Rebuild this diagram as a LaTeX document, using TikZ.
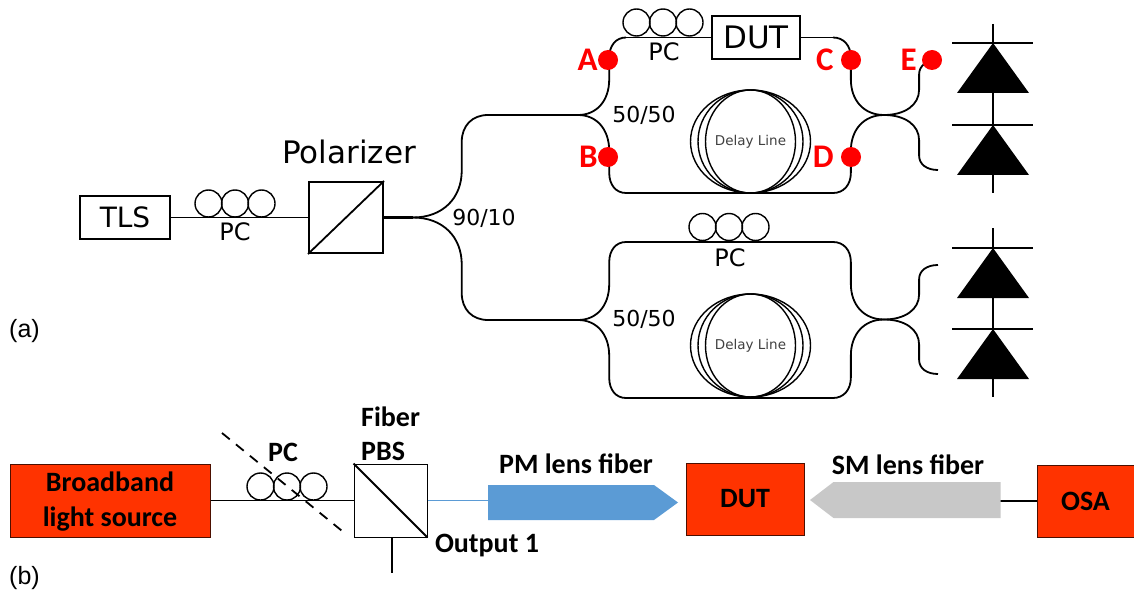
\documentclass[tikz,border=0pt]{standalone}
\usepackage{fontspec}
\setmainfont{DejaVu Sans}
\newfontfamily\labelfont{Carlito}
\newfontfamily\tagfont{Liberation Sans}
\usepackage{tikz}
\usetikzlibrary{calc}
\newcommand{\figuresize}{1pt}
\definecolor{srcred}{HTML}{FF3300}
\definecolor{pmblue}{HTML}{5B9BD5}
\definecolor{smgray}{HTML}{C8C8C8}
\newcommand{\makepc}[1]{
	\foreach \dx in {-26.5,0,26.5}
		\draw[coil] ($(#1)+(\dx,-14)$) circle (13.5pt);
}
\newcommand{\makebend}[2]{
	\coordinate (p) at ($(#1)!.65!(#2)$);
	\coordinate (m1) at ($(#1)!.46!(#2)$);
	\coordinate (m2) at ($(#1)!.74!(#2)$);
	\coordinate (n1) at (p |- m1);
	\coordinate (n2) at (p |- m2);
	\draw[fiber] (#1) .. controls ($(#1)!.6!(p |- #1)$) and ($(n1)!.6!(p |- #1)$) .. (n1) -- (n2)
		.. controls ($(n2)!.6!(p |- #2)$) and ($(#2)!.6!(p |- #2)$) .. (#2);
}
\newcommand{\makecoil}[1]{
	\foreach \rx in {60,52.5,45}
		\draw[coil] (#1) ellipse ({\rx pt} and 51.5pt);
	\node[small] at (#1) {Delay Line};
}
\newcommand{\makediode}[1]{
	\draw[fiber] ($(#1)+(-41,0)$) -- ($(#1)+(40,0)$);
	\fill ($(#1)+(0,0)$) -- ($(#1)+(36,50)$) -- ($(#1)+(-36,50)$) -- cycle;
}
\tikzset{
	fiber/.style={line width=1.8pt},
	coil/.style={line width=1.4pt},
	box/.style={draw, line width=2pt, inner sep=0pt, fill=white},
	redbox/.style={draw=black!70!srcred, line width=1pt, fill=srcred, inner sep=0pt, align=center, font=\labelfont\bfseries\fontsize{28}{35}\selectfont},
	dot/.style={circle, fill=red, inner sep=0pt, minimum size=20pt, label distance=3pt},
	letter/.style={text=red, inner sep=0pt, font=\labelfont\bfseries\fontsize{33}{33}\selectfont},
	big/.style={font=\fontsize{#1}{#1}\selectfont},
	small/.style={text=black!75, font=\fontsize{13.5}{14}\selectfont},
	bold/.style={inner sep=0pt, font=\labelfont\bfseries\fontsize{28}{34}\selectfont},
	tag/.style={anchor=west, inner sep=0pt, font=\tagfont\fontsize{25}{25}\selectfont},
}
\begin{document}
\begin{tikzpicture}[x=\figuresize,y=-\figuresize]
	\useasboundingbox (0,0) rectangle (1134,596);

	% part a, input side
	\node[box, big=28, minimum width=90pt, minimum height=43pt] (tls) at (125,217.5) {TLS};
	\node[box, minimum width=74pt, minimum height=71pt] (polarizer) at (346,217.5) {};
	\node[big=31] at (349,152) {Polarizer};
	\draw[fiber] (polarizer.south west) -- (polarizer.north east);
	\draw[fiber] (tls) -- (polarizer);
	\coordinate (Pa) at (235,217.5);
	\makepc{Pa}
	\node[big=24] at (235,232) {PC};
	\node[big=22] at (484,218) {90/10};

	\coordinate (S) at (413,217.5);
	\coordinate (S1) at (488,115);
	\coordinate (S2) at (488,320);
	\coordinate (U) at (578,115);
	\coordinate (L) at (578,320);
	\draw[line width=2.2pt] (polarizer) -- (S);
	\makebend{S}{S1}
	\makebend{S}{S2}
	\draw[line width=2.2pt] (S1) -- (U);
	\draw[line width=2.2pt] (S2) -- (L);

	% upper interferometer
	\coordinate (Ut) at (626,37.5);
	\coordinate (Ub) at (626,193);
	\coordinate (Vt) at (833,37.5);
	\coordinate (Vb) at (833,193);
	\coordinate (X) at (884,115);
	\coordinate (Eo) at (938,60);
	\coordinate (Fo) at (938,170);
	\makebend{U}{Ut}
	\makebend{U}{Ub}
	\makebend{X}{Vt}
	\makebend{X}{Vb}
	\makebend{X}{Eo}
	\makebend{X}{Fo}
	\node[box, big=31, minimum width=88pt, minimum height=43pt] (dut) at (756,37.5) {DUT};
	\draw[fiber] (Ut) -- (dut);
	\draw[fiber] (dut) -- (Vt);
	\draw[fiber] (Ub) -- (Vb);
	\coordinate (Pb) at (663,36.5);
	\makepc{Pb}
	\node[big=24] at (664,52) {PC};
	\node[big=22] at (644,115) {50/50};
	\coordinate (Ca) at (750.5,141.5);
	\makecoil{Ca}

	\node[dot, label={[letter]left:A}] (A) at (608,60) {};
	\node[dot, label={[letter]left:B}] (B) at (608,157) {};
	\node[dot, label={[letter,label distance=7pt]left:C}] (C) at (851,60) {};
	\node[dot, label={[letter,label distance=7pt]left:D}] (D) at (851,157) {};
	\node[dot, label={[letter,label distance=5pt]left:E}] (E) at (932,60) {};

	% lower interferometer
	\coordinate (Lt) at (626,242);
	\coordinate (Lb) at (626,398);
	\coordinate (Wt) at (833,242);
	\coordinate (Wb) at (833,398);
	\coordinate (Y) at (884,319.5);
	\coordinate (Go) at (938,265);
	\coordinate (Ho) at (938,374);
	\makebend{L}{Lt}
	\makebend{L}{Lb}
	\makebend{Y}{Wt}
	\makebend{Y}{Wb}
	\makebend{Y}{Go}
	\makebend{Y}{Ho}
	\draw[fiber] (Lt) -- (Wt);
	\draw[fiber] (Lb) -- (Wb);
	\coordinate (Pc) at (729,241);
	\makepc{Pc}
	\node[big=24] at (730,258) {PC};
	\node[big=22] at (644,319) {50/50};
	\coordinate (Cb) at (750.5,345.5);
	\makecoil{Cb}

	% photodiodes
	\foreach \y in {43,125,248,329} {
		\coordinate (d) at (993,\y);
		\makediode{d}
	}
	\coordinate (Ta) at (993,24);
	\coordinate (Tb) at (993,193);
	\coordinate (Tc) at (993,228);
	\coordinate (Td) at (993,397);
	\draw[fiber] (Ta) -- (Tb);
	\draw[fiber] (Tc) -- (Td);

	\node[tag] (taga) at (9,331) {(a)};
	\node[tag] (tagb) at (9,578) {(b)};

	% part b
	\node[redbox, minimum width=200pt, minimum height=73pt] (src) at (110,500.5) {};
	\node[bold, align=center] (srctext) at (110,502) {Broadband\\[1pt]light source};
	\node[draw, line width=1pt, fill=white, minimum width=73pt, minimum height=73pt] (pbs) at (390.5,500.5) {};
	\draw[fiber] (pbs.north west) -- (pbs.south east);
	\draw[fiber] (src) -- (pbs);
	\coordinate (Pd) at (287,500.5);
	\makepc{Pd}
	\coordinate (Da) at (222,433);
	\coordinate (Db) at (347,535);
	\draw[fiber, dash pattern=on 10pt off 8pt] (Da) -- (Db);
	\node[bold] at (283,452) {PC};
	\node[bold, anchor=north west, align=left] at (361,407) {Fiber\\PBS};
	\coordinate (Oa) at (392,573);
	\draw[fiber] (pbs.south -| Oa) -- (Oa);
	\node[bold] at (487,546) {Output 1};

	\coordinate (Ma) at (488,500.5);
	\draw[pmblue, fiber] (pbs) -- (Ma);
	\fill[pmblue] (488,485) -- (654,485) -- (678,502.5) -- (654,520) -- (488,520) -- cycle;
	\node[bold] at (576,464) {PM lens fiber};
	\node[redbox, minimum width=118pt, minimum height=72pt] (dutb) at (745,499) {DUT};

	\node[redbox, minimum width=97pt, minimum height=72pt] (osa) at (1085.5,501) {OSA};
	\coordinate (Ga) at (1000,501);
	\draw[fiber] (Ga) -- (osa);
	\fill[smgray] (1000.5,482) -- (833.5,482) -- (810,500) -- (833.5,518) -- (1000.5,518) -- cycle;
	\node[bold] at (908,465) {SM lens fiber};
\end{tikzpicture}
\end{document}
